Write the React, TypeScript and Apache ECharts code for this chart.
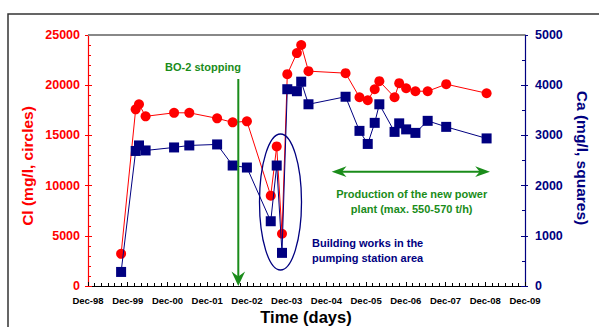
import React, { useEffect, useRef } from "react";
import * as echarts from "echarts";

// x values: months since Dec-98
const sampleMonths = [10, 14.4, 15.4, 17.4, 26, 30.6, 39, 43.7, 48, 55.2, 57, 58.6, 60.2, 63.1, 64.4, 66.6, 77.8, 82, 84.5, 86.6, 88, 92.6, 94, 96.1, 98.9, 102.6, 108.2, 120.4];
const clValues = [3200, 17600, 18100, 16900, 17250, 17250, 16700, 16300, 16400, 9000, 13900, 5200, 21100, 23200, 24000, 21400, 21200, 18800, 18500, 19600, 20400, 18800, 20200, 19700, 19400, 19400, 20100, 19200];
const caValues = [280, 2690, 2800, 2700, 2760, 2800, 2820, 2400, 2360, 1290, 2400, 660, 3920, 3880, 4070, 3620, 3770, 3090, 2830, 3250, 3620, 3070, 3240, 3120, 3050, 3290, 3170, 2940];
const xTickLabels = ["Dec-98", "Dec-99", "Dec-00", "Dec-01", "Dec-02", "Dec-03", "Dec-04", "Dec-05", "Dec-06", "Dec-07", "Dec-08", "Dec-09"];
const clAxisMax = 25000;
const caAxisMax = 5000;

const FONT = "'Liberation Sans', Arial, sans-serif";
const RED = "#ff0000";
const NAVY = "#000080";
const GREEN = "#1a8c1a";

export default function App() {
  const ref = useRef<HTMLDivElement>(null);
  useEffect(() => {
    if (!ref.current) return;
    const chart = echarts.init(ref.current, null, { renderer: "svg" });
    const clData = sampleMonths.map((m, i) => [m, clValues[i]]);
    const caData = sampleMonths.map((m, i) => [m, caValues[i]]);
    chart.setOption({
      animation: false,
      backgroundColor: "#ffffff",
      textStyle: { fontFamily: FONT },
      grid: { left: 88, right: 74, top: 35, bottom: 41 },
      xAxis: {
        type: "value",
        min: 0,
        max: 132,
        interval: 12,
        axisLine: { lineStyle: { color: "#000", width: 1.2 } },
        axisTick: { inside: true, length: 4, lineStyle: { color: "#000" } },
        minorTick: { show: true, splitNumber: 6, length: 3, lineStyle: { color: "#000" } },
        splitLine: { show: false },
        axisLabel: {
          margin: 9,
          fontFamily: FONT,
          fontWeight: "bold",
          fontSize: 9.5,
          color: "#000",
          formatter: (v: number) => xTickLabels[Math.round(v / 12)] ?? "",
        },
      },
      yAxis: [
        {
          type: "value",
          min: 0,
          max: clAxisMax,
          interval: 5000,
          position: "left",
          axisLine: { show: true, lineStyle: { color: RED, width: 1.2 } },
          axisTick: { show: true, inside: true, length: 4, lineStyle: { color: RED } },
          minorTick: { show: true, splitNumber: 5, length: 3, lineStyle: { color: RED } },
          splitLine: { show: false },
          axisLabel: { margin: 8, fontFamily: FONT, fontWeight: "bold", fontSize: 12.5, color: RED, formatter: (v: number) => String(v) },
        },
        {
          type: "value",
          min: 0,
          max: caAxisMax,
          interval: 1000,
          position: "right",
          axisLine: { show: true, lineStyle: { color: NAVY, width: 1.2 } },
          axisTick: { show: true, inside: true, length: 4, lineStyle: { color: NAVY } },
          minorTick: { show: true, splitNumber: 2, length: 3, lineStyle: { color: NAVY } },
          splitLine: { show: false },
          axisLabel: { margin: 10, fontFamily: FONT, fontWeight: "bold", fontSize: 12.5, color: NAVY, formatter: (v: number) => String(v) },
        },
        {
          type: "value",
          min: 0,
          max: clAxisMax,
          interval: 5000,
          position: "left",
          axisLine: { show: false },
          axisTick: { show: true, inside: false, length: 3, lineStyle: { color: RED } },
          splitLine: { show: false },
          axisLabel: { show: false },
        },
        {
          type: "value",
          min: 0,
          max: caAxisMax,
          interval: 1000,
          position: "right",
          axisLine: { show: false },
          axisTick: { show: true, inside: false, length: 3, lineStyle: { color: NAVY } },
          splitLine: { show: false },
          axisLabel: { show: false },
        },
      ],
      series: [
        {
          name: "Cl",
          type: "line",
          yAxisIndex: 0,
          data: clData,
          symbol: "circle",
          symbolSize: 10,
          itemStyle: { color: RED },
          lineStyle: { color: RED, width: 1 },
          z: 3,
        },
        {
          name: "Ca",
          type: "line",
          yAxisIndex: 1,
          data: caData,
          symbol: "rect",
          symbolSize: 10,
          itemStyle: { color: NAVY },
          lineStyle: { color: NAVY, width: 1 },
          z: 4,
        },
      ],
      graphic: [
        { type: "rect", shape: { x: 8, y: 14, width: 620, height: 340 }, style: { fill: "none", stroke: "#333", lineWidth: 1.5 }, z: 1 },
        { type: "line", shape: { x1: 88, y1: 35, x2: 525, y2: 35 }, style: { stroke: "#888", lineWidth: 2 }, z: 1 },
        // BO-2 stopping arrow
        { type: "line", shape: { x1: 238.3, y1: 79, x2: 238.3, y2: 278 }, style: { stroke: GREEN, lineWidth: 2 }, z: 10 },
        { type: "polygon", shape: { points: [[238.3, 286], [231.5, 271.5], [238.3, 276.5], [245.1, 271.5]] }, style: { fill: GREEN }, z: 10 },
        { type: "text", x: 203, y: 67, style: { text: "BO-2 stopping", fill: GREEN, font: `bold 11px ${FONT}`, align: "center", verticalAlign: "middle" }, z: 10 },
        // building works ellipse
        { type: "ellipse", shape: { cx: 280.5, cy: 202, rx: 21, ry: 68 }, style: { fill: "none", stroke: NAVY, lineWidth: 1.3 }, z: 10 },
        { type: "text", x: 312, y: 243, style: { text: "Building works in the", fill: NAVY, font: `bold 11px ${FONT}`, align: "left", verticalAlign: "middle" }, z: 10 },
        { type: "text", x: 312, y: 258, style: { text: "pumping station area", fill: NAVY, font: `bold 11px ${FONT}`, align: "left", verticalAlign: "middle" }, z: 10 },
        // production double arrow
        { type: "line", shape: { x1: 340, y1: 171.7, x2: 482, y2: 171.7 }, style: { stroke: GREEN, lineWidth: 2 }, z: 10 },
        { type: "polygon", shape: { points: [[331.7, 171.7], [346.5, 166.3], [342, 171.7], [346.5, 177.1]] }, style: { fill: GREEN }, z: 10 },
        { type: "polygon", shape: { points: [[490, 171.7], [475.2, 166.3], [479.7, 171.7], [475.2, 177.1]] }, style: { fill: GREEN }, z: 10 },
        { type: "text", x: 411.7, y: 194, style: { text: "Production of the new power", fill: GREEN, font: `bold 11px ${FONT}`, align: "center", verticalAlign: "middle" }, z: 10 },
        { type: "text", x: 411.7, y: 208.5, style: { text: "plant (max. 550-570 t/h)", fill: GREEN, font: `bold 11px ${FONT}`, align: "center", verticalAlign: "middle" }, z: 10 },
        // axis titles
        { type: "text", x: 27, y: 166, rotation: Math.PI / 2, style: { text: "Cl (mg/l, circles)", fill: RED, font: `bold 15.5px ${FONT}`, align: "center", verticalAlign: "middle" }, z: 10 },
        { type: "text", x: 582, y: 158, rotation: -Math.PI / 2, style: { text: "Ca (mg/l, squares)", fill: NAVY, font: `bold 15.5px ${FONT}`, align: "center", verticalAlign: "middle" }, z: 10 },
        { type: "text", x: 306, y: 317, style: { text: "Time (days)", fill: "#000", font: `bold 16.5px ${FONT}`, align: "center", verticalAlign: "middle" }, z: 10 },
      ],
    });
    return () => chart.dispose();
  }, []);
  return <div ref={ref} style={{ position: "fixed", left: 0, top: 0, width: 599, height: 327 }} />;
}
